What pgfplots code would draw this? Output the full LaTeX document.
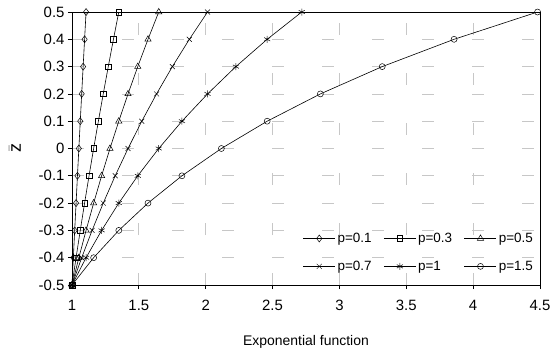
\documentclass[border=0pt]{standalone}
\usepackage{pgfplots}
\pgfplotsset{compat=1.18}
\usepackage{fontspec}
\setmainfont{Liberation Sans}
\begin{document}
\begin{tikzpicture}
\begin{axis}[
  scale only axis,
  width=468bp, height=273bp,
  xmin=1, xmax=4.5, ymin=-0.5, ymax=0.5,
  xtick={1,1.5,...,4.5},
  ytick={-0.5,-0.4,...,0.5},
  yticklabel style={/pgf/number format/fixed,/pgf/number format/precision=1},
  /pgf/number format/assume math mode=true,
  tick label style={font=\fontsize{15}{17}\selectfont},
  xticklabel style={yshift=-8bp},
  label style={font=\fontsize{14}{16}\selectfont},
  xlabel={Exponential function},
  xlabel style={yshift=-17bp},
  ylabel={\fontsize{18}{19}\selectfont$\bar{\hbox{z}}$},
  ylabel style={at={(axis description cs:0,0.5)}, anchor=center, yshift=57bp},
  tick align=outside,
  tick style={black, line width=0.8pt},
  major tick length=4bp,
  xtick pos=bottom, ytick pos=left,
  grid=major,
  grid style={black!22, dash pattern=on 12bp off 38bp, line width=0.8pt},
  axis line style={black, line width=1pt},
  legend style={draw=none, fill=none, at={(1,0)}, xshift=-4bp, yshift=10bp, anchor=south east,
    font=\fontsize{13.5}{15}\selectfont, row sep=13bp, inner sep=1bp,
    /tikz/every even column/.append style={column sep=10bp}},
  legend columns=3,
  legend cell align=left,
  legend image code/.code={\draw[mark repeat=2,mark phase=2] plot coordinates {(0bp,0bp)(16bp,0bp)(32bp,0bp)};},
  every axis plot/.append style={black, line width=0.6pt, mark size=3bp, mark options={solid, fill=white, line width=0.5pt}},
]
\addplot[mark=diamond, mark size=3.5bp] coordinates {(1,-0.5)(1.01005,-0.4)(1.0202,-0.3)(1.03045,-0.2)(1.04081,-0.1)(1.05127,0)(1.06184,0.1)(1.07251,0.2)(1.08329,0.3)(1.09417,0.4)(1.10517,0.5)};
\addlegendentry{p=0.1}
\addplot[mark=square, mark size=2.8bp] coordinates {(1,-0.5)(1.03045,-0.4)(1.06184,-0.3)(1.09417,-0.2)(1.1275,-0.1)(1.16183,0)(1.19722,0.1)(1.23368,0.2)(1.27125,0.3)(1.30996,0.4)(1.34986,0.5)};
\addlegendentry{p=0.3}
\addplot[mark=triangle, mark size=3.6bp] coordinates {(1,-0.5)(1.05127,-0.4)(1.10517,-0.3)(1.16183,-0.2)(1.2214,-0.1)(1.28403,0)(1.34986,0.1)(1.41907,0.2)(1.49182,0.3)(1.56831,0.4)(1.64872,0.5)};
\addlegendentry{p=0.5}
\addplot[mark=x, mark size=3.5bp] coordinates {(1,-0.5)(1.07251,-0.4)(1.15027,-0.3)(1.23368,-0.2)(1.32313,-0.1)(1.41907,0)(1.52196,0.1)(1.63232,0.2)(1.75067,0.3)(1.87761,0.4)(2.01375,0.5)};
\addlegendentry{p=0.7}
\addplot[mark=asterisk, mark size=3.5bp] coordinates {(1,-0.5)(1.10517,-0.4)(1.2214,-0.3)(1.34986,-0.2)(1.49182,-0.1)(1.64872,0)(1.82212,0.1)(2.01375,0.2)(2.22554,0.3)(2.4596,0.4)(2.71828,0.5)};
\addlegendentry{p=1}
\addplot[mark=o, mark size=3bp] coordinates {(1,-0.5)(1.16183,-0.4)(1.34986,-0.3)(1.56831,-0.2)(1.82212,-0.1)(2.117,0)(2.4596,0.1)(2.85765,0.2)(3.32012,0.3)(3.85743,0.4)(4.48169,0.5)};
\addlegendentry{p=1.5}
\end{axis}
\pgfresetboundingbox
\path (current axis.south west) ++(-72bp,-70bp) rectangle ++(553bp,355bp);
\end{tikzpicture}
\end{document}
